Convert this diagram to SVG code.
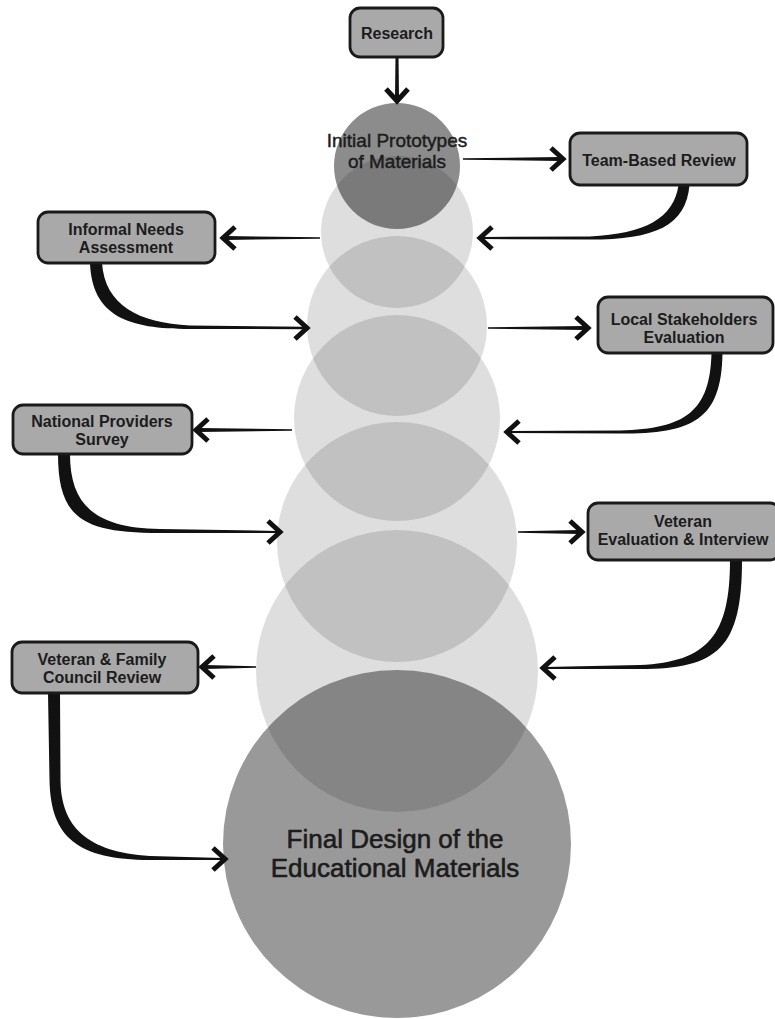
<svg xmlns="http://www.w3.org/2000/svg" width="775" height="1019" viewBox="0 0 775 1019">
<style>
  .bg{fill:#ffffff}
  .lc{fill:#000000;fill-opacity:0.13}
  .dc{fill:#000000;fill-opacity:0.45}
  .fc{fill:#000000;fill-opacity:0.40}
  .box{fill:#a9a9a9;stroke:#1a1a1a;stroke-width:2.8}
  .bl{font-family:"Liberation Sans",Arial,sans-serif;font-weight:bold;font-size:16px;fill:#1c1c1c;text-anchor:middle}
  .ct{font-family:"Liberation Sans",Arial,sans-serif;font-size:19px;fill:#1c1c1c;stroke:#1c1c1c;stroke-width:0.45;text-anchor:middle}
  .ft{font-family:"Liberation Sans",Arial,sans-serif;font-size:26px;fill:#1c1c1c;stroke:#1c1c1c;stroke-width:0.6;text-anchor:middle}
  .taper{fill:#111111;stroke:none}
  .chev{fill:none;stroke:#111111;stroke-width:5;stroke-linejoin:miter;stroke-linecap:butt}
</style>
<defs>
  <path id="chev" class="chev" d="M-12,-11 L0,0 L-12,11"/>
</defs>
<rect class="bg" x="0" y="0" width="775" height="1019"/>

<g id="circles">
  <g id="circle-2"><circle class="lc" cx="397" cy="232" r="76"/></g>
  <g id="circle-3"><circle class="lc" cx="397" cy="326" r="90"/></g>
  <g id="circle-4"><circle class="lc" cx="397" cy="418" r="103"/></g>
  <g id="circle-5"><circle class="lc" cx="397" cy="542" r="120"/></g>
  <g id="circle-6"><circle class="lc" cx="397" cy="671" r="141"/></g>
  <g id="initial-prototypes">
    <circle class="dc" cx="397" cy="166" r="63"/>
    <text class="ct" x="397" y="147">Initial Prototypes</text>
    <text class="ct" x="397" y="168">of Materials</text>
  </g>
  <g id="final-design">
    <circle class="fc" cx="397" cy="844" r="174"/>
    <text class="ft" x="395" y="848">Final Design of the</text>
    <text class="ft" x="395" y="877">Educational Materials</text>
  </g>
</g>

<g id="connectors">
  <!-- Research -> Initial -->
  <path class="taper" d="M395.5,57 L398.5,57 L399,97 L395,97 Z"/>
  <use href="#chev" transform="translate(397,101) rotate(90)"/>
  <!-- Initial -> Team-Based Review -->
  <path class="taper" d="M463,158.3 L560,157 L560,161 L463,159.7 Z"/>
  <use href="#chev" transform="translate(563,159)"/>
  <!-- Team-Based Review -> circle 2 -->
  <path class="taper" d="M689.5,185 C686,226 655,239.5 590,239.6 L482,239 L482,237 L590,236.4 C645,234 674,218 678.5,185 Z"/>
  <use href="#chev" transform="translate(480,238) rotate(180)"/>
  <!-- circle 2 -> Informal Needs -->
  <path class="taper" d="M320,237.3 L226,236 L226,240 L320,238.7 Z"/>
  <use href="#chev" transform="translate(223,238) rotate(180)"/>
  <!-- Informal Needs -> circle 3 -->
  <path class="taper" d="M90,263 C92,316 128,329 190,329 L305,329.2 L305,326.8 L190,325.4 C138,323 105,305 102,263 Z"/>
  <use href="#chev" transform="translate(307,328)"/>
  <!-- circle 3 -> Local Stakeholders -->
  <path class="taper" d="M488,327.3 L585,326 L585,330 L488,328.7 Z"/>
  <use href="#chev" transform="translate(588,328)"/>
  <!-- Local Stakeholders -> circle 4 -->
  <path class="taper" d="M722.5,353 C721.5,420 693,433.6 620,433.6 L509,433.1 L509,430.9 L620,430.4 C686,429 710,411 711.5,353 Z"/>
  <use href="#chev" transform="translate(507,432) rotate(180)"/>
  <!-- circle 4 -> National Providers -->
  <path class="taper" d="M292,429.3 L199,428 L199,432 L292,430.7 Z"/>
  <use href="#chev" transform="translate(196,430) rotate(180)"/>
  <!-- National Providers -> circle 5 -->
  <path class="taper" d="M58,454 C58,518 82,533 160,533 L278,533.1 L278,530.9 L160,529 C95,528 70,505 70,454 Z"/>
  <use href="#chev" transform="translate(280,532)"/>
  <!-- circle 5 -> Veteran Evaluation -->
  <path class="taper" d="M518,531.3 L579,530 L579,534 L518,532.7 Z"/>
  <use href="#chev" transform="translate(582,532)"/>
  <!-- Veteran Evaluation -> circle 6 -->
  <path class="taper" d="M742,560 C742,648 718,669 640,669 L545,669.1 L545,666.9 L640,665 C708,662 730,635 730,560 Z"/>
  <use href="#chev" transform="translate(543,668) rotate(180)"/>
  <!-- circle 6 -> Veteran & Family -->
  <path class="taper" d="M256,666.3 L205,665 L205,669 L256,667.7 Z"/>
  <use href="#chev" transform="translate(202,667) rotate(180)"/>
  <!-- Veteran & Family -> Final -->
  <path class="taper" d="M48,693 L49.5,780 C50.5,838 78,859.5 150,860 L223,860 L223,858 L150,856 C86,852 61,826 60.5,780 L60,693 Z"/>
  <use href="#chev" transform="translate(225,859)"/>
</g>

<g id="research">
  <rect class="box" x="350" y="8" width="93" height="49" rx="10"/>
  <text class="bl" x="397" y="38.5">Research</text>
</g>
<g id="team-based-review">
  <rect class="box" x="570" y="133" width="177" height="52" rx="10"/>
  <text class="bl" x="659" y="166">Team-Based Review</text>
</g>
<g id="informal-needs-assessment">
  <rect class="box" x="38" y="212" width="177" height="51" rx="10"/>
  <text class="bl" x="126" y="235">Informal Needs</text>
  <text class="bl" x="126" y="253">Assessment</text>
</g>
<g id="local-stakeholders-evaluation">
  <rect class="box" x="598" y="297" width="175" height="56" rx="10"/>
  <text class="bl" x="684" y="325">Local Stakeholders</text>
  <text class="bl" x="684" y="343">Evaluation</text>
</g>
<g id="national-providers-survey">
  <rect class="box" x="13" y="405" width="179" height="49" rx="10"/>
  <text class="bl" x="102" y="427">National Providers</text>
  <text class="bl" x="102" y="445">Survey</text>
</g>
<g id="veteran-evaluation-interview">
  <rect class="box" x="588" y="503" width="192" height="57" rx="10"/>
  <text class="bl" x="683" y="527">Veteran</text>
  <text class="bl" x="683" y="545">Evaluation &amp; Interview</text>
</g>
<g id="veteran-family-council-review">
  <rect class="box" x="12" y="642" width="186" height="51" rx="10"/>
  <text class="bl" x="102" y="665">Veteran &amp; Family</text>
  <text class="bl" x="102" y="683">Council Review</text>
</g>
</svg>
